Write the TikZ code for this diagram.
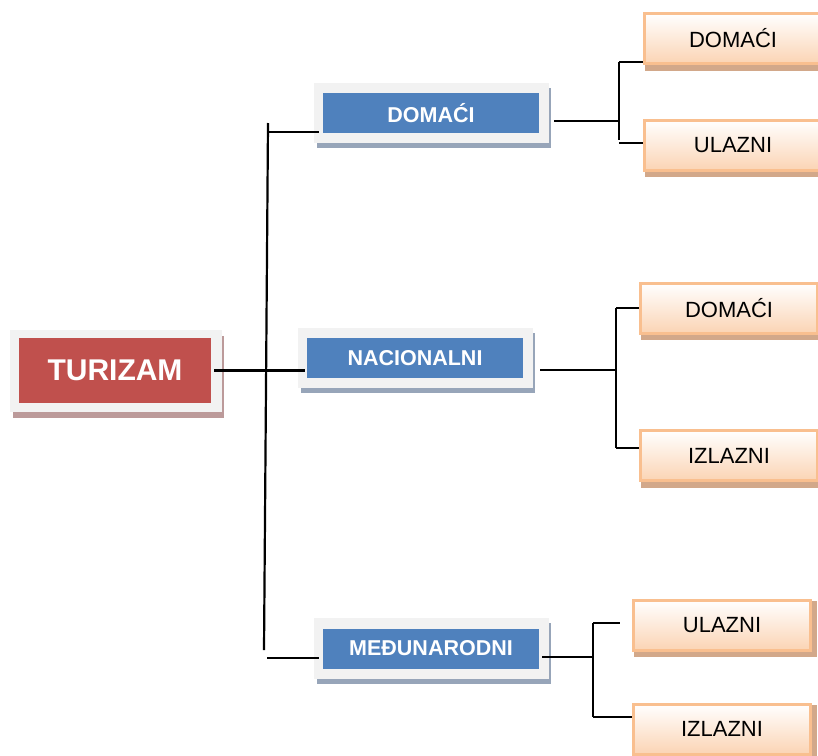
\documentclass[tikz,border=0pt]{standalone}
\usepackage{fontspec}
\setmainfont{Liberation Sans}
\usetikzlibrary{backgrounds}
\definecolor{tred}{HTML}{C0504D}
\definecolor{tblue}{HTML}{4F81BD}
\definecolor{frameg}{HTML}{F2F2F2}
\definecolor{bshadow}{HTML}{97A5B9}
\definecolor{rshadow}{HTML}{BC9A9A}
\definecolor{oborder}{HTML}{F9BF8F}
\definecolor{ofill}{HTML}{FBD4B4}
\definecolor{oshadow}{HTML}{D2A88A}
\begin{document}
\begin{tikzpicture}[x=1pt,y=-1pt,
 redbox/.style={fill=tred, text=white, font=\bfseries\fontsize{30}{36}\selectfont, minimum width=192, minimum height=65, inner sep=0},
 bluebox/.style={fill=tblue, text=white, font=\bfseries\fontsize{21.5}{26}\selectfont, minimum width=216, minimum height=40, inner sep=0},
 orangebox/.style={draw=oborder, line width=3, top color=white, bottom color=ofill, font=\fontsize{22}{26}\selectfont, minimum width=177, minimum height=50, inner sep=0},
 link/.style={line width=2.2, black}]
\useasboundingbox (0,0) rectangle (818,755);

% main nodes
\node[redbox] (tur) at (115,370.5) {TURIZAM};
\node[bluebox] (dom) at (431,113) {DOMAĆI};
\node[bluebox] (nac) at (415,358) {NACIONALNI};
\node[bluebox] (med) at (431,648.5) {MEĐUNARODNI};

\node[orangebox] (od1) at (733,38.5) {DOMAĆI};
\node[orangebox] (ou1) at (733,145) {ULAZNI};
\node[orangebox] (od2) at (729,308) {DOMAĆI};
\node[orangebox] (oi2) at (729,455.5) {IZLAZNI};
\node[orangebox] (ou3) at (722,625) {ULAZNI};
\node[orangebox] (oi3) at (722,729) {IZLAZNI};

\begin{pgfonlayer}{background}
 \fill[white] (0,0) rectangle (818,755);
 \fill[rshadow] ([shift={(-6,-2)}]tur.north west) rectangle ([shift={(13,15)}]tur.south east);
 \fill[frameg] ([shift={(-9,-8)}]tur.north west) rectangle ([shift={(11,9)}]tur.south east);
 \foreach \n in {dom,nac,med} {
  \fill[bshadow] ([shift={(-6,-5)}]\n.north west) rectangle ([shift={(12,15)}]\n.south east);
  \fill[frameg] ([shift={(-9,-10)}]\n.north west) rectangle ([shift={(10,10)}]\n.south east);
 }
 \foreach \n in {od1,ou1,od2,oi2,ou3,oi3} {
  \fill[oshadow] ([shift={(1.5,2.5)}]\n.north west) rectangle ([shift={(4.5,5.5)}]\n.south east);
 }
\end{pgfonlayer}

% trunk
\coordinate (tt) at (268,123);
\coordinate (tb) at (264,650);
\draw[link] (tt) -- (tb);
\draw[link] ([xshift=3]tur.east) -- ([xshift=-2]nac.west |- tur.east);
\coordinate (j1) at (268,132);
\draw[link] (j1) -- ([xshift=-4]dom.west |- j1);
\coordinate (j3) at (267,658);
\draw[link] (j3) -- ([xshift=-4]med.west |- j3);

% DOMACI branch
\coordinate (b1) at (619,121);
\coordinate (b1t) at (619,62);
\coordinate (b1b) at (619,140);
\coordinate (b1c) at (619,143);
\draw[link] ([xshift=15]dom.east |- b1) -- (b1);
\draw[link] (b1t) -- (b1b);
\draw[link] (b1t) -- (od1.west |- b1t);
\draw[link] (b1c) -- (ou1.west |- b1c);

% NACIONALNI branch
\coordinate (b2) at (616,370);
\coordinate (b2t) at (616,308);
\coordinate (b2b) at (616,448);
\draw[link] ([xshift=17]nac.east |- b2) -- (b2);
\draw[link] (b2t) -- (b2b);
\draw[link] (b2t) -- (od2.west |- b2t);
\draw[link] (b2b) -- (oi2.west |- b2b);

% MEDUNARODNI branch
\coordinate (b3) at (593,657);
\coordinate (b3t) at (593,623);
\coordinate (b3b) at (593,717);
\draw[link] ([xshift=3]med.east |- b3) -- (b3);
\draw[link] (b3t) -- (b3b);
\draw[link] (b3t) -- ([xshift=-12]ou3.west |- b3t);
\draw[link] (b3b) -- (oi3.west |- b3b);
\end{tikzpicture}
\end{document}
